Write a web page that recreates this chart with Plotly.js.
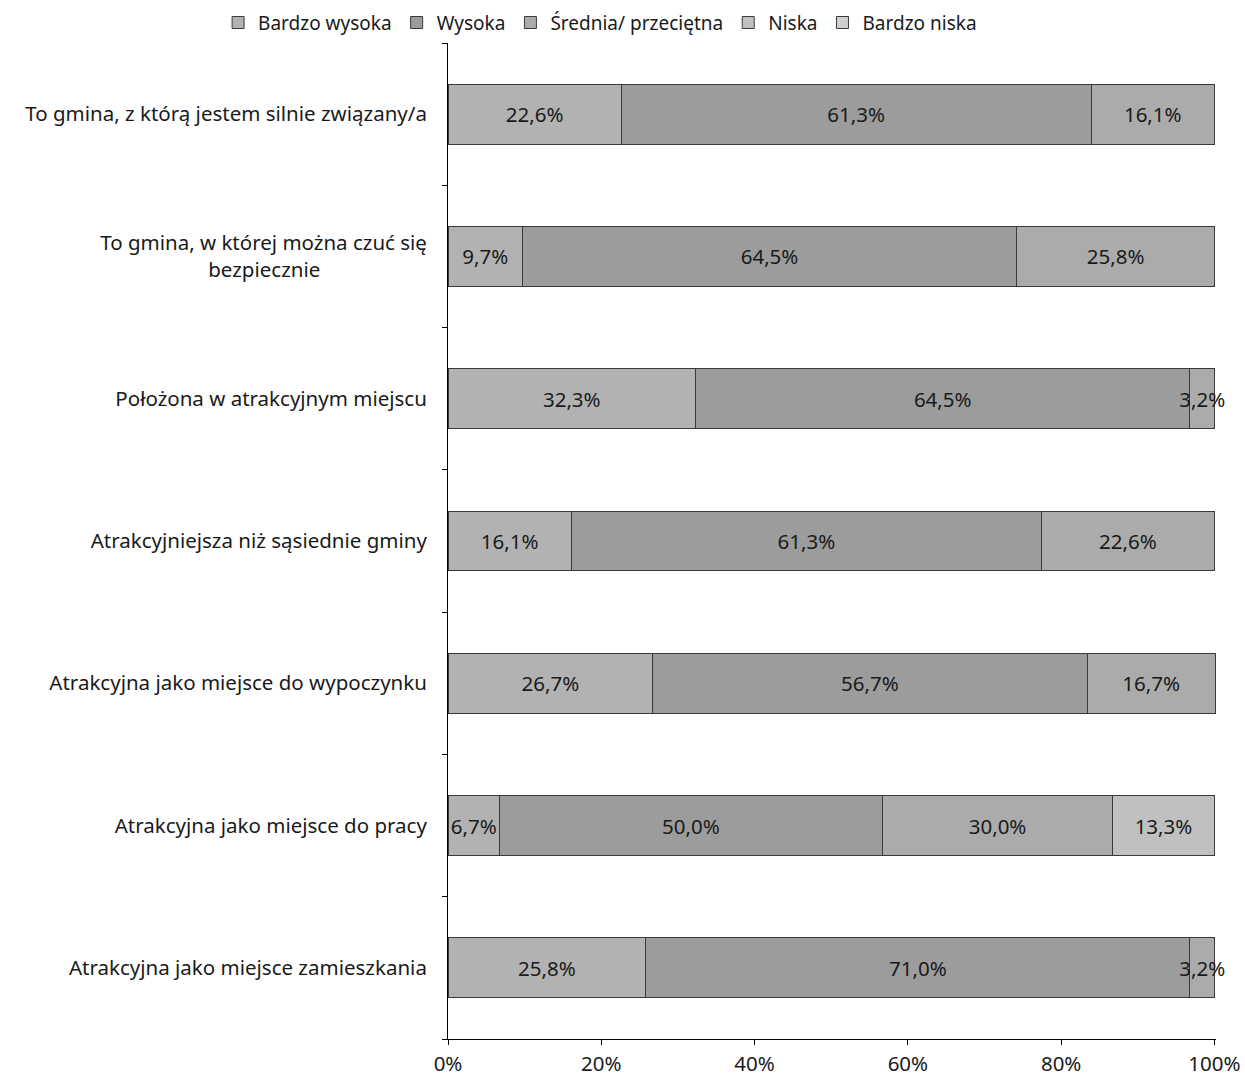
<!DOCTYPE html>
<html>
<head>
<meta charset="utf-8">
<script src="https://cdn.plot.ly/plotly-3.0.1.min.js"></script>
<style>html,body{margin:0;padding:0;background:#fff;}#chart{width:1245px;height:1079px;}</style>
</head>
<body>
<div id="chart"></div>
<script>
const categories = [
  "To gmina, z którą jestem silnie związany/a",
  "To gmina, w której można czuć się<br>bezpiecznie",
  "Położona w atrakcyjnym miejscu",
  "Atrakcyjniejsza niż sąsiednie gminy",
  "Atrakcyjna jako miejsce do wypoczynku",
  "Atrakcyjna jako miejsce do pracy",
  "Atrakcyjna jako miejsce zamieszkania"
];
const seriesNames = ["Bardzo wysoka", "Wysoka", "Średnia/ przeciętna", "Niska", "Bardzo niska"];
const bardzoWysoka = [22.6, 9.7, 32.3, 16.1, 26.7, 6.7, 25.8];
const wysoka = [61.3, 64.5, 64.5, 61.3, 56.7, 50.0, 71.0];
const srednia = [16.1, 25.8, 3.2, 22.6, 16.7, 30.0, 3.2];
const niska = [null, null, null, null, null, 13.3, null];
const bardzoNiska = [null, null, null, null, null, null, null];
const xTickVals = [0, 20, 40, 60, 80, 100];

const seriesValues = [bardzoWysoka, wysoka, srednia, niska, bardzoNiska];
const colors = ["#b2b2b2", "#9c9c9c", "#ababab", "#c0c0c0", "#d0d0d0"];
const FS = 20.5;

// centre wrapped second line under the first (as in the original)
const NBSP = "\u00A0";
const tickLabels = categories.map(c => {
  const parts = c.split("<br>");
  if (parts.length < 2) return c;
  return parts[0] + "<br>" + parts[1] + NBSP.repeat(20);
});

const traces = seriesValues.map((vals, i) => ({
  type: "bar",
  orientation: "h",
  name: seriesNames[i],
  y: categories,
  x: vals,
  marker: {color: colors[i], line: {color: "#3a3a3a", width: 1}},
  text: vals.map(v => v == null ? "" : v.toFixed(1).replace(".", ",") + "%"),
  textposition: "inside",
  insidetextanchor: "middle",
  textangle: 0,
  constraintext: "none",
  textfont: {family: "Noto Sans, sans-serif", size: FS, color: "#1a1a1a"},
  cliponaxis: false,
  hoverinfo: "x+name"
}));

const layout = {
  width: 1245,
  height: 1079,
  barmode: "stack",
  bargap: 0.58,
  separators: ", ",
  paper_bgcolor: "#ffffff",
  plot_bgcolor: "#ffffff",
  font: {family: "Noto Sans, sans-serif", size: FS, color: "#1a1a1a"},
  margin: {l: 448, r: 29, t: 43, b: 40, autoexpand: false},
  showlegend: true,
  legend: {
    orientation: "h",
    xref: "container", yref: "container",
    x: 0.482, xanchor: "center",
    y: 0.979, yanchor: "middle",
    traceorder: "normal",
    font: {size: 19},
    itemwidth: 30,
    tracegroupgap: 0
  },
  xaxis: {
    range: [0, 100.2],
    tickvals: xTickVals,
    ticktext: xTickVals.map(v => v + "%"),
    showgrid: false,
    zeroline: false,
    showline: true,
    linecolor: "#000",
    linewidth: 1,
    ticks: "outside",
    ticklen: 5,
    tickcolor: "#000",
    ticklabelstandoff: 1,
    tickfont: {size: FS}
  },
  yaxis: {
    autorange: "reversed",
    tickmode: "array",
    tickvals: categories,
    ticktext: tickLabels,
    showgrid: false,
    zeroline: false,
    showline: true,
    linecolor: "#000",
    linewidth: 1,
    ticks: "outside",
    tickson: "boundaries",
    ticklen: 5,
    tickcolor: "#000",
    ticklabelstandoff: 16,
    tickfont: {size: FS}
  }
};

Plotly.newPlot("chart", traces, layout, {displayModeBar: false, staticPlot: true});
</script>
</body>
</html>
